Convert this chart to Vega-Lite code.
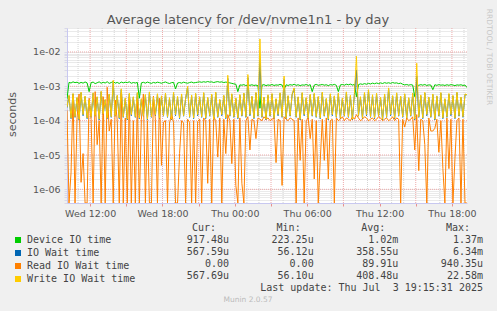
{
"$schema": "https://vega.github.io/schema/vega-lite/v6.json",
"width": 400, "height": 175,
"autosize": {"type": "none"},
"padding": {"left": 67, "top": 28, "right": 30, "bottom": 108},
"background": "#f0f0f0",
"config": {"view": {"fill": "white", "stroke": null}, "font": "DejaVu Sans"},
"layer": [
{
"layer": [
{
"data": {"values": [{"g":1e-2},{"g":1e-3},{"g":1e-4},{"g":1e-5},{"g":1e-6}]},
"mark": {"type": "rule", "color": "#eeaaaa", "strokeDash": [1,1], "strokeWidth": 1},
"encoding": {"y": {"field": "g", "type": "quantitative", "scale": {"type": "log", "domain": [4e-7, 0.05], "clamp": true}}}
},
{
"data": {"values": [{"h":"2025-07-02T11:00"},{"h":"2025-07-02T13:00"},{"h":"2025-07-02T14:00"},{"h":"2025-07-02T16:00"},{"h":"2025-07-02T17:00"},{"h":"2025-07-02T19:00"},{"h":"2025-07-02T20:00"},{"h":"2025-07-02T22:00"},{"h":"2025-07-02T23:00"},{"h":"2025-07-03T01:00"},{"h":"2025-07-03T02:00"},{"h":"2025-07-03T04:00"},{"h":"2025-07-03T05:00"},{"h":"2025-07-03T07:00"},{"h":"2025-07-03T08:00"},{"h":"2025-07-03T10:00"},{"h":"2025-07-03T11:00"},{"h":"2025-07-03T13:00"},{"h":"2025-07-03T14:00"},{"h":"2025-07-03T16:00"},{"h":"2025-07-03T17:00"},{"h":"2025-07-03T19:00"}]},
"mark": {"type": "rule", "color": "#d4d4d4", "strokeDash": [1,1], "strokeWidth": 1},
"encoding": {"x": {"field": "h", "type": "temporal"}}
},
{
"data": {"values": [{"h":"2025-07-02T12:00"},{"h":"2025-07-02T15:00"},{"h":"2025-07-02T18:00"},{"h":"2025-07-02T21:00"},{"h":"2025-07-03T00:00"},{"h":"2025-07-03T03:00"},{"h":"2025-07-03T06:00"},{"h":"2025-07-03T09:00"},{"h":"2025-07-03T12:00"},{"h":"2025-07-03T15:00"},{"h":"2025-07-03T18:00"}]},
"mark": {"type": "rule", "color": "#eeaaaa", "strokeDash": [1,1], "strokeWidth": 1},
"encoding": {"x": {"field": "h", "type": "temporal"}}
},
{
"data": {"values": [
{"t":"2025-07-02T10:05","d":4.3e-4,"i":2.4e-4,"r":2.0e-4,"w":2.5e-4},
{"t":"2025-07-02T10:15","d":13e-4,"i":5.3e-4,"r":0,"w":5.5e-4},
{"t":"2025-07-02T10:25","d":12.5e-4,"i":1.15e-4,"r":0.03e-4,"w":1.2e-4},
{"t":"2025-07-02T10:35","d":13.5e-4,"i":6e-4,"r":5.5e-4,"w":6.2e-4},
{"t":"2025-07-02T10:45","d":12.8e-4,"i":1.25e-4,"r":0,"w":1.3e-4},
{"t":"2025-07-02T10:55","d":13.2e-4,"i":4.6e-4,"r":1.2e-4,"w":4.8e-4},
{"t":"2025-07-02T11:05","d":12.2e-4,"i":1.05e-4,"r":6e-4,"w":1.1e-4},
{"t":"2025-07-02T11:15","d":13e-4,"i":6.5e-4,"r":0.016e-4,"w":6.8e-4},
{"t":"2025-07-02T11:25","d":12.4e-4,"i":1.4e-4,"r":0.11e-4,"w":1.5e-4},
{"t":"2025-07-02T11:35","d":13.4e-4,"i":5e-4,"r":0,"w":5.2e-4},
{"t":"2025-07-02T11:45","d":12.6e-4,"i":1.15e-4,"r":0,"w":1.2e-4},
{"t":"2025-07-02T11:55","d":7e-4,"i":3.8e-4,"r":4.5e-4,"w":4e-4},
{"t":"2025-07-02T12:05","d":12.8e-4,"i":1.25e-4,"r":1.1e-4,"w":1.3e-4},
{"t":"2025-07-02T12:15","d":13.3e-4,"i":6.2e-4,"r":0,"w":6.5e-4},
{"t":"2025-07-02T12:25","d":12e-4,"i":1.35e-4,"r":7e-4,"w":1.4e-4},
{"t":"2025-07-02T12:35","d":12.7e-4,"i":4.8e-4,"r":0.2e-4,"w":5e-4},
{"t":"2025-07-02T12:45","d":13.5e-4,"i":1.05e-4,"r":1e-4,"w":1.1e-4},
{"t":"2025-07-02T12:55","d":12.3e-4,"i":6.9e-4,"r":0,"w":7.2e-4},
{"t":"2025-07-02T13:05","d":13.1e-4,"i":1.5e-4,"r":5e-4,"w":1.6e-4},
{"t":"2025-07-02T13:15","d":12.5e-4,"i":4e-4,"r":0,"w":4.2e-4},
{"t":"2025-07-02T13:25","d":13.6e-4,"i":1.15e-4,"r":9.4e-4,"w":1.2e-4},
{"t":"2025-07-02T13:35","d":12.2e-4,"i":5.8e-4,"r":0.5e-4,"w":6e-4},
{"t":"2025-07-02T13:45","d":12.9e-4,"i":1.25e-4,"r":1.1e-4,"w":1.3e-4},
{"t":"2025-07-02T13:55","d":13.8e-4,"i":13e-4,"r":0,"w":15e-4},
{"t":"2025-07-02T14:05","d":12.4e-4,"i":1.35e-4,"r":4e-4,"w":1.4e-4},
{"t":"2025-07-02T14:15","d":13e-4,"i":5.3e-4,"r":1e-4,"w":5.5e-4},
{"t":"2025-07-02T14:25","d":12.1e-4,"i":1.15e-4,"r":0,"w":1.2e-4},
{"t":"2025-07-02T14:35","d":13.3e-4,"i":8e-4,"r":6.5e-4,"w":8.5e-4},
{"t":"2025-07-02T14:45","d":12.6e-4,"i":1.25e-4,"r":0,"w":1.3e-4},
{"t":"2025-07-02T14:55","d":13.2e-4,"i":4.4e-4,"r":1.2e-4,"w":4.6e-4},
{"t":"2025-07-02T15:05","d":12.8e-4,"i":1.05e-4,"r":0,"w":1.1e-4},
{"t":"2025-07-02T15:15","d":13.5e-4,"i":6e-4,"r":5e-4,"w":6.3e-4},
{"t":"2025-07-02T15:25","d":12.3e-4,"i":1.4e-4,"r":0,"w":1.5e-4},
{"t":"2025-07-02T15:35","d":12.9e-4,"i":4.8e-4,"r":1e-4,"w":5e-4},
{"t":"2025-07-02T15:45","d":12.5e-4,"i":1.25e-4,"r":0,"w":1.3e-4},
{"t":"2025-07-02T15:55","d":13e-4,"i":6.3e-4,"r":4.2e-4,"w":6.6e-4},
{"t":"2025-07-02T16:05","d":4.5e-4,"i":1.15e-4,"r":0,"w":1.2e-4},
{"t":"2025-07-02T16:15","d":12.6e-4,"i":4.2e-4,"r":1.1e-4,"w":4.4e-4},
{"t":"2025-07-02T16:25","d":13.1e-4,"i":1.35e-4,"r":6e-4,"w":1.4e-4},
{"t":"2025-07-02T16:35","d":12.4e-4,"i":5.5e-4,"r":0,"w":5.8e-4},
{"t":"2025-07-02T16:45","d":13.3e-4,"i":1.05e-4,"r":1e-4,"w":1.1e-4},
{"t":"2025-07-02T16:55","d":12.7e-4,"i":6.6e-4,"r":0,"w":6.9e-4},
{"t":"2025-07-02T17:05","d":12.2e-4,"i":1.25e-4,"r":0,"w":1.3e-4},
{"t":"2025-07-02T17:15","d":13e-4,"i":4.7e-4,"r":5.2e-4,"w":4.9e-4},
{"t":"2025-07-02T17:25","d":12.5e-4,"i":1.4e-4,"r":1e-4,"w":1.5e-4},
{"t":"2025-07-02T17:35","d":13.2e-4,"i":5.8e-4,"r":0,"w":6.1e-4},
{"t":"2025-07-02T17:45","d":12.8e-4,"i":1.15e-4,"r":4.5e-4,"w":1.2e-4},
{"t":"2025-07-02T17:55","d":12.3e-4,"i":5e-4,"r":0.05e-4,"w":5.3e-4},
{"t":"2025-07-02T18:05","d":12.9e-4,"i":1.35e-4,"r":0.9e-4,"w":1.4e-4},
{"t":"2025-07-02T18:15","d":13.4e-4,"i":6.1e-4,"r":1e-4,"w":6.4e-4},
{"t":"2025-07-02T18:25","d":12.6e-4,"i":1.25e-4,"r":0,"w":1.3e-4},
{"t":"2025-07-02T18:35","d":12.1e-4,"i":4.5e-4,"r":0.85e-4,"w":4.7e-4},
{"t":"2025-07-02T18:45","d":12.8e-4,"i":1.05e-4,"r":1.6e-4,"w":1.1e-4},
{"t":"2025-07-02T18:55","d":13e-4,"i":6.4e-4,"r":0.9e-4,"w":6.7e-4},
{"t":"2025-07-02T19:05","d":8.4e-4,"i":1.4e-4,"r":0,"w":1.5e-4},
{"t":"2025-07-02T19:15","d":12.5e-4,"i":4.9e-4,"r":0,"w":5.1e-4},
{"t":"2025-07-02T19:25","d":12.9e-4,"i":1.15e-4,"r":0.11e-4,"w":1.2e-4},
{"t":"2025-07-02T19:35","d":12.4e-4,"i":5.7e-4,"r":1e-4,"w":6e-4},
{"t":"2025-07-02T19:45","d":13.2e-4,"i":1.35e-4,"r":0.85e-4,"w":1.4e-4},
{"t":"2025-07-02T19:55","d":12.7e-4,"i":4.3e-4,"r":0,"w":4.5e-4},
{"t":"2025-07-02T20:05","d":12.3e-4,"i":9.5e-4,"r":1.1e-4,"w":10e-4},
{"t":"2025-07-02T20:15","d":12.9e-4,"i":1.25e-4,"r":0.9e-4,"w":1.3e-4},
{"t":"2025-07-02T20:25","d":13.3e-4,"i":5.3e-4,"r":0,"w":5.6e-4},
{"t":"2025-07-02T20:35","d":12.6e-4,"i":1.15e-4,"r":1e-4,"w":1.2e-4},
{"t":"2025-07-02T20:45","d":12.9e-4,"i":6e-4,"r":0,"w":6.3e-4},
{"t":"2025-07-02T20:55","d":13.2e-4,"i":1.4e-4,"r":0.95e-4,"w":1.5e-4},
{"t":"2025-07-02T21:05","d":13.5e-4,"i":4.8e-4,"r":1.1e-4,"w":5e-4},
{"t":"2025-07-02T21:15","d":13.1e-4,"i":1.25e-4,"r":0,"w":1.3e-4},
{"t":"2025-07-02T21:25","d":13.6e-4,"i":6.3e-4,"r":1.2e-4,"w":6.6e-4},
{"t":"2025-07-02T21:35","d":13.2e-4,"i":1.15e-4,"r":1e-4,"w":1.2e-4},
{"t":"2025-07-02T21:45","d":13.8e-4,"i":4.6e-4,"r":0.015e-4,"w":4.8e-4},
{"t":"2025-07-02T21:55","d":13.3e-4,"i":1.35e-4,"r":1.1e-4,"w":1.4e-4},
{"t":"2025-07-02T22:05","d":13.5e-4,"i":5.6e-4,"r":0,"w":5.9e-4},
{"t":"2025-07-02T22:15","d":12.9e-4,"i":1.05e-4,"r":1.3e-4,"w":1.1e-4},
{"t":"2025-07-02T22:25","d":13.4e-4,"i":6.5e-4,"r":1e-4,"w":6.8e-4},
{"t":"2025-07-02T22:35","d":13.7e-4,"i":1.25e-4,"r":0.087e-4,"w":1.3e-4},
{"t":"2025-07-02T22:45","d":13.2e-4,"i":4e-4,"r":1.2e-4,"w":4.2e-4},
{"t":"2025-07-02T22:55","d":13.5e-4,"i":1.4e-4,"r":0,"w":1.5e-4},
{"t":"2025-07-02T23:05","d":12.9e-4,"i":5.3e-4,"r":1.1e-4,"w":5.5e-4},
{"t":"2025-07-02T23:15","d":13.3e-4,"i":1.15e-4,"r":0.11e-4,"w":1.2e-4},
{"t":"2025-07-02T23:25","d":13e-4,"i":17e-4,"r":1.5e-4,"w":21e-4},
{"t":"2025-07-02T23:35","d":12.6e-4,"i":1.35e-4,"r":1e-4,"w":1.4e-4},
{"t":"2025-07-02T23:45","d":12.2e-4,"i":5.8e-4,"r":0.056e-4,"w":6.1e-4},
{"t":"2025-07-02T23:55","d":11.8e-4,"i":1.25e-4,"r":1.1e-4,"w":1.3e-4},
{"t":"2025-07-03T00:05","d":11.5e-4,"i":4.4e-4,"r":0.013e-4,"w":4.6e-4},
{"t":"2025-07-03T00:15","d":7e-4,"i":1.15e-4,"r":0,"w":1.2e-4},
{"t":"2025-07-03T00:25","d":11e-4,"i":5.5e-4,"r":1.2e-4,"w":5.8e-4},
{"t":"2025-07-03T00:35","d":10.8e-4,"i":1.35e-4,"r":0.015e-4,"w":1.4e-4},
{"t":"2025-07-03T00:45","d":11.2e-4,"i":6.1e-4,"r":0,"w":6.4e-4},
{"t":"2025-07-03T00:55","d":10.5e-4,"i":1.25e-4,"r":1e-4,"w":1.3e-4},
{"t":"2025-07-03T01:05","d":11e-4,"i":18e-4,"r":1.3e-4,"w":22e-4},
{"t":"2025-07-03T01:15","d":10.7e-4,"i":1.4e-4,"r":0.14e-4,"w":1.5e-4},
{"t":"2025-07-03T01:25","d":11.1e-4,"i":5e-4,"r":1.1e-4,"w":5.2e-4},
{"t":"2025-07-03T01:35","d":10.6e-4,"i":1.15e-4,"r":1e-4,"w":1.2e-4},
{"t":"2025-07-03T01:45","d":10.9e-4,"i":6.4e-4,"r":0.3e-4,"w":6.7e-4},
{"t":"2025-07-03T01:55","d":10.4e-4,"i":1.35e-4,"r":1.2e-4,"w":1.4e-4},
{"t":"2025-07-03T02:05","d":2.3e-4,"i":63e-4,"r":1.1e-4,"w":240e-4},
{"t":"2025-07-03T02:15","d":10.8e-4,"i":1.25e-4,"r":1e-4,"w":1.3e-4},
{"t":"2025-07-03T02:25","d":11.2e-4,"i":4.7e-4,"r":1.3e-4,"w":4.9e-4},
{"t":"2025-07-03T02:35","d":10.5e-4,"i":1.05e-4,"r":1.1e-4,"w":1.1e-4},
{"t":"2025-07-03T02:45","d":11e-4,"i":5.4e-4,"r":1.2e-4,"w":5.7e-4},
{"t":"2025-07-03T02:55","d":10.7e-4,"i":1.35e-4,"r":1e-4,"w":1.4e-4},
{"t":"2025-07-03T03:05","d":11.3e-4,"i":5.9e-4,"r":1.1e-4,"w":6.2e-4},
{"t":"2025-07-03T03:15","d":10.6e-4,"i":1.15e-4,"r":1.2e-4,"w":1.2e-4},
{"t":"2025-07-03T03:25","d":11e-4,"i":4.2e-4,"r":0.06e-4,"w":4.4e-4},
{"t":"2025-07-03T03:35","d":10.8e-4,"i":1.4e-4,"r":1.1e-4,"w":1.5e-4},
{"t":"2025-07-03T03:45","d":11.4e-4,"i":6.2e-4,"r":1e-4,"w":6.5e-4},
{"t":"2025-07-03T03:55","d":10.9e-4,"i":1.25e-4,"r":0.013e-4,"w":1.3e-4},
{"t":"2025-07-03T04:05","d":8e-4,"i":16e-4,"r":1.3e-4,"w":20e-4},
{"t":"2025-07-03T04:15","d":11.1e-4,"i":1.15e-4,"r":1.1e-4,"w":1.2e-4},
{"t":"2025-07-03T04:25","d":10.6e-4,"i":5.2e-4,"r":1e-4,"w":5.4e-4},
{"t":"2025-07-03T04:35","d":11.2e-4,"i":1.35e-4,"r":1.2e-4,"w":1.4e-4},
{"t":"2025-07-03T04:45","d":10.8e-4,"i":5.7e-4,"r":1.1e-4,"w":6e-4},
{"t":"2025-07-03T04:55","d":11.5e-4,"i":8.5e-4,"r":1e-4,"w":9e-4},
{"t":"2025-07-03T05:05","d":10.7e-4,"i":1.25e-4,"r":0,"w":1.3e-4},
{"t":"2025-07-03T05:15","d":11.1e-4,"i":4.8e-4,"r":1.2e-4,"w":5e-4},
{"t":"2025-07-03T05:25","d":10.5e-4,"i":1.05e-4,"r":0.07e-4,"w":1.1e-4},
{"t":"2025-07-03T05:35","d":11e-4,"i":6.3e-4,"r":1.1e-4,"w":6.6e-4},
{"t":"2025-07-03T05:45","d":10.8e-4,"i":1.4e-4,"r":0,"w":1.5e-4},
{"t":"2025-07-03T05:55","d":11.3e-4,"i":4.5e-4,"r":1e-4,"w":4.7e-4},
{"t":"2025-07-03T06:05","d":10.6e-4,"i":1.15e-4,"r":1.2e-4,"w":1.2e-4},
{"t":"2025-07-03T06:15","d":11.2e-4,"i":5.6e-4,"r":0.3e-4,"w":5.9e-4},
{"t":"2025-07-03T06:25","d":7e-4,"i":1.35e-4,"r":1.1e-4,"w":1.4e-4},
{"t":"2025-07-03T06:35","d":10.9e-4,"i":6e-4,"r":0.02e-4,"w":6.3e-4},
{"t":"2025-07-03T06:45","d":11.4e-4,"i":1.25e-4,"r":1e-4,"w":1.3e-4},
{"t":"2025-07-03T06:55","d":10.7e-4,"i":4.9e-4,"r":0,"w":5.1e-4},
{"t":"2025-07-03T07:05","d":11e-4,"i":1.15e-4,"r":0.07e-4,"w":1.2e-4},
{"t":"2025-07-03T07:15","d":11.3e-4,"i":6.5e-4,"r":1.1e-4,"w":6.8e-4},
{"t":"2025-07-03T07:25","d":10.8e-4,"i":1.35e-4,"r":0.07e-4,"w":1.4e-4},
{"t":"2025-07-03T07:35","d":11.1e-4,"i":4.3e-4,"r":1.2e-4,"w":4.5e-4},
{"t":"2025-07-03T07:45","d":10.5e-4,"i":1.05e-4,"r":0.02e-4,"w":1.1e-4},
{"t":"2025-07-03T07:55","d":11.2e-4,"i":5.8e-4,"r":1e-4,"w":6.1e-4},
{"t":"2025-07-03T08:05","d":10.9e-4,"i":1.4e-4,"r":1.1e-4,"w":1.5e-4},
{"t":"2025-07-03T08:15","d":11.4e-4,"i":5.1e-4,"r":0,"w":5.3e-4},
{"t":"2025-07-03T08:25","d":10.7e-4,"i":1.25e-4,"r":1.2e-4,"w":1.3e-4},
{"t":"2025-07-03T08:35","d":7e-4,"i":6.1e-4,"r":1e-4,"w":6.4e-4},
{"t":"2025-07-03T08:45","d":11e-4,"i":1.15e-4,"r":1.1e-4,"w":1.2e-4},
{"t":"2025-07-03T08:55","d":11.3e-4,"i":4.4e-4,"r":1.3e-4,"w":4.6e-4},
{"t":"2025-07-03T09:05","d":10.8e-4,"i":1.35e-4,"r":1e-4,"w":1.4e-4},
{"t":"2025-07-03T09:15","d":11.5e-4,"i":6.6e-4,"r":1.2e-4,"w":6.9e-4},
{"t":"2025-07-03T09:25","d":11.1e-4,"i":1.25e-4,"r":1.1e-4,"w":1.3e-4},
{"t":"2025-07-03T09:35","d":11.6e-4,"i":5.2e-4,"r":1e-4,"w":5.5e-4},
{"t":"2025-07-03T09:45","d":10.9e-4,"i":1.05e-4,"r":1.3e-4,"w":1.1e-4},
{"t":"2025-07-03T09:55","d":11.3e-4,"i":5.9e-4,"r":1.1e-4,"w":6.2e-4},
{"t":"2025-07-03T10:05","d":5e-4,"i":30e-4,"r":1.5e-4,"w":75e-4},
{"t":"2025-07-03T10:15","d":11.2e-4,"i":1.35e-4,"r":1.2e-4,"w":1.4e-4},
{"t":"2025-07-03T10:25","d":11.8e-4,"i":4.8e-4,"r":1e-4,"w":5e-4},
{"t":"2025-07-03T10:35","d":11.4e-4,"i":1.15e-4,"r":1.1e-4,"w":1.2e-4},
{"t":"2025-07-03T10:45","d":12e-4,"i":6.3e-4,"r":1.3e-4,"w":6.6e-4},
{"t":"2025-07-03T10:55","d":11.5e-4,"i":1.4e-4,"r":1.2e-4,"w":1.5e-4},
{"t":"2025-07-03T11:05","d":12.2e-4,"i":7.5e-4,"r":1e-4,"w":8e-4},
{"t":"2025-07-03T11:15","d":11.7e-4,"i":1.25e-4,"r":1.1e-4,"w":1.3e-4},
{"t":"2025-07-03T11:25","d":12.4e-4,"i":5.4e-4,"r":1.2e-4,"w":5.7e-4},
{"t":"2025-07-03T11:35","d":11.9e-4,"i":1.15e-4,"r":1e-4,"w":1.2e-4},
{"t":"2025-07-03T11:45","d":12.5e-4,"i":6e-4,"r":1.1e-4,"w":6.3e-4},
{"t":"2025-07-03T11:55","d":12e-4,"i":1.35e-4,"r":1.3e-4,"w":1.4e-4},
{"t":"2025-07-03T12:05","d":12.6e-4,"i":4.6e-4,"r":1.2e-4,"w":4.8e-4},
{"t":"2025-07-03T12:15","d":12.1e-4,"i":1.05e-4,"r":1e-4,"w":1.1e-4},
{"t":"2025-07-03T12:25","d":12.8e-4,"i":5.7e-4,"r":1.1e-4,"w":6e-4},
{"t":"2025-07-03T12:35","d":12.3e-4,"i":1.25e-4,"r":1.2e-4,"w":1.3e-4},
{"t":"2025-07-03T12:45","d":12.7e-4,"i":8.5e-4,"r":1e-4,"w":9e-4},
{"t":"2025-07-03T12:55","d":12.2e-4,"i":1.4e-4,"r":1.1e-4,"w":1.5e-4},
{"t":"2025-07-03T13:05","d":12.9e-4,"i":5.2e-4,"r":1.3e-4,"w":5.4e-4},
{"t":"2025-07-03T13:15","d":12.4e-4,"i":1.15e-4,"r":1e-4,"w":1.2e-4},
{"t":"2025-07-03T13:25","d":12.6e-4,"i":6.2e-4,"r":1.2e-4,"w":6.5e-4},
{"t":"2025-07-03T13:35","d":12e-4,"i":1.35e-4,"r":1.1e-4,"w":1.4e-4},
{"t":"2025-07-03T13:45","d":12.4e-4,"i":5e-4,"r":0,"w":5.2e-4},
{"t":"2025-07-03T13:55","d":11.5e-4,"i":1.25e-4,"r":1.1e-4,"w":1.3e-4},
{"t":"2025-07-03T14:05","d":11e-4,"i":5.8e-4,"r":0.65e-4,"w":6.1e-4},
{"t":"2025-07-03T14:15","d":11.3e-4,"i":1.15e-4,"r":1.2e-4,"w":1.2e-4},
{"t":"2025-07-03T14:25","d":10.8e-4,"i":4.5e-4,"r":1e-4,"w":4.7e-4},
{"t":"2025-07-03T14:35","d":11.2e-4,"i":1.35e-4,"r":1.1e-4,"w":1.4e-4},
{"t":"2025-07-03T14:45","d":10.9e-4,"i":6.1e-4,"r":1.3e-4,"w":6.4e-4},
{"t":"2025-07-03T14:55","d":5e-4,"i":1.05e-4,"r":0.14e-4,"w":1.1e-4},
{"t":"2025-07-03T15:05","d":11.1e-4,"i":20e-4,"r":1.5e-4,"w":47e-4},
{"t":"2025-07-03T15:15","d":10.7e-4,"i":1.25e-4,"r":0.035e-4,"w":1.3e-4},
{"t":"2025-07-03T15:25","d":11.2e-4,"i":5.3e-4,"r":1.1e-4,"w":5.6e-4},
{"t":"2025-07-03T15:35","d":10.8e-4,"i":1.15e-4,"r":1e-4,"w":1.2e-4},
{"t":"2025-07-03T15:45","d":11.3e-4,"i":6.4e-4,"r":0.2e-4,"w":6.7e-4},
{"t":"2025-07-03T15:55","d":10.6e-4,"i":1.4e-4,"r":0,"w":1.5e-4},
{"t":"2025-07-03T16:05","d":11e-4,"i":4.7e-4,"r":1.2e-4,"w":4.9e-4},
{"t":"2025-07-03T16:15","d":10.9e-4,"i":1.25e-4,"r":0.5e-4,"w":1.3e-4},
{"t":"2025-07-03T16:25","d":8e-4,"i":5.7e-4,"r":0.5e-4,"w":6e-4},
{"t":"2025-07-03T16:35","d":11.1e-4,"i":1.05e-4,"r":0.6e-4,"w":1.1e-4},
{"t":"2025-07-03T16:45","d":10.7e-4,"i":5.1e-4,"r":1.1e-4,"w":5.3e-4},
{"t":"2025-07-03T16:55","d":11.2e-4,"i":1.35e-4,"r":0.12e-4,"w":1.4e-4},
{"t":"2025-07-03T17:05","d":10.8e-4,"i":6.3e-4,"r":1e-4,"w":6.6e-4},
{"t":"2025-07-03T17:15","d":11e-4,"i":1.15e-4,"r":0.04e-4,"w":1.2e-4},
{"t":"2025-07-03T17:25","d":10.6e-4,"i":4.2e-4,"r":0,"w":4.4e-4},
{"t":"2025-07-03T17:35","d":11.1e-4,"i":1.25e-4,"r":1.2e-4,"w":1.3e-4},
{"t":"2025-07-03T17:45","d":10.7e-4,"i":5.9e-4,"r":0.04e-4,"w":6.2e-4},
{"t":"2025-07-03T17:55","d":11.2e-4,"i":1.4e-4,"r":1.1e-4,"w":1.5e-4},
{"t":"2025-07-03T18:05","d":10.9e-4,"i":5.2e-4,"r":0,"w":5.5e-4},
{"t":"2025-07-03T18:15","d":10.5e-4,"i":1.15e-4,"r":0.08e-4,"w":1.2e-4},
{"t":"2025-07-03T18:25","d":11e-4,"i":6.5e-4,"r":1e-4,"w":6.8e-4},
{"t":"2025-07-03T18:35","d":10.8e-4,"i":1.35e-4,"r":1.2e-4,"w":1.4e-4},
{"t":"2025-07-03T18:45","d":11.1e-4,"i":4.7e-4,"r":0,"w":4.9e-4},
{"t":"2025-07-03T18:55","d":10.6e-4,"i":1.25e-4,"r":1.1e-4,"w":1.3e-4},
{"t":"2025-07-03T19:05","d":10.9e-4,"i":5.7e-4,"r":0,"w":6e-4},
{"t":"2025-07-03T19:15","d":9.1748e-4,"i":5.6759e-4,"r":0,"w":5.6769e-4}
]},
"transform": [{"fold": ["d","i","r","w"], "as": ["k","v"]}],
"mark": {"type": "line", "strokeWidth": 1, "clip": true},
"encoding": {
"x": {"field": "t", "type": "temporal",
"axis": {"title": null, "format": "%a %H:%M", "grid": false, "labelFont": "DejaVu Sans", "labelFontSize": 9.5, "labelColor": "#555555", "labelPadding": 2, "tickColor": "#e89090", "tickSize": 3, "domainColor": "#c8c8f0"}},
"y": {"field": "v", "type": "quantitative",
"scale": {"type": "log", "domain": [4e-7, 0.05], "clamp": true},
"axis": {"title": "seconds", "titleFont": "DejaVu Sans", "titleFontSize": 11, "titleFontWeight": "normal", "titleColor": "#555555", "titleX": -55, "titleY": 86, "titleBaseline": "middle",
"values": [4e-7,5e-7,6e-7,7e-7,8e-7,9e-7,1e-6,2e-6,3e-6,4e-6,5e-6,6e-6,7e-6,8e-6,9e-6,1e-5,2e-5,3e-5,4e-5,5e-5,6e-5,7e-5,8e-5,9e-5,1e-4,2e-4,3e-4,4e-4,5e-4,6e-4,7e-4,8e-4,9e-4,1e-3,2e-3,3e-3,4e-3,5e-3,6e-3,7e-3,8e-3,9e-3,1e-2,2e-2,3e-2,4e-2,5e-2],
"labelExpr": "datum.value == 1e-2 ? '1e-02' : datum.value == 1e-3 ? '1e-03' : datum.value == 1e-4 ? '1e-04' : datum.value == 1e-5 ? '1e-05' : datum.value == 1e-6 ? '1e-06' : ''",
"labelFont": "DejaVu Sans", "labelFontSize": 9.5, "labelColor": "#555555", "labelPadding": 4,
"gridColor": "#d4d4d4", "gridDash": [1,1], "tickColor": "#d8d8e8", "tickSize": 3, "domainColor": "#c8c8f0"}},
"color": {"field": "k", "type": "nominal",
"scale": {"domain": ["d","i","r","w"], "range": ["#00cc00","#0066b3","#ff8000","#ffcc00"]},
"legend": {"orient": "none", "legendX": -54, "legendY": 207, "direction": "vertical", "title": null, "padding": 0,
"symbolType": "square", "symbolSize": 9, "symbolStrokeWidth": 3,
"labelExpr": "datum.label == 'd' ? 'Device IO time' : datum.label == 'i' ? 'IO Wait time' : datum.label == 'r' ? 'Read IO Wait time' : 'Write IO Wait time'",
"labelFont": "DejaVu Sans Mono", "labelFontSize": 10, "labelColor": "#444444", "labelOffset": 4, "rowPadding": -4.3}}
}
}
]
},
{
"data": {"values": [{"s":"Average latency for /dev/nvme1n1 - by day"}]},
"mark": {"type": "text", "align": "center", "baseline": "alphabetic", "font": "DejaVu Sans", "fontSize": 13, "color": "#555555"},
"encoding": {
"x": {"field": "s", "type": "nominal", "scale": {"range": [181,181], "padding": 0}, "axis": null},
"y": {"field": "s", "type": "nominal", "scale": {"range": [-4.5,-4.5], "padding": 0}, "axis": null},
"text": {"field": "s"}}
},
{
"data": {"values": [{"r":"h","c":"cur","s":"Cur:"},{"r":"h","c":"min","s":"Min:"},{"r":"h","c":"avg","s":"Avg:"},{"r":"h","c":"max","s":"Max:"}]},
"mark": {"type": "text", "align": "right", "baseline": "middle", "font": "DejaVu Sans Mono", "fontSize": 10, "color": "#444444", "dx": -13},
"encoding": {
"x": {"field": "c", "type": "nominal", "scale": {"domain": ["cur","min","avg","max"], "range": [162,416], "padding": 0}, "axis": null},
"y": {"field": "r", "type": "nominal", "scale": {"domain": ["h","1","2","3","4","5"], "range": [200,260], "padding": 0}, "axis": null},
"text": {"field": "s"}}
},
{
"data": {"values": [
{"r":"1","c":"cur","s":"917.48u"},{"r":"1","c":"min","s":"223.25u"},{"r":"1","c":"avg","s":"1.02m"},{"r":"1","c":"max","s":"1.37m"},
{"r":"2","c":"cur","s":"567.59u"},{"r":"2","c":"min","s":"56.12u"},{"r":"2","c":"avg","s":"358.55u"},{"r":"2","c":"max","s":"6.34m"},
{"r":"3","c":"cur","s":"0.00\u00a0"},{"r":"3","c":"min","s":"0.00\u00a0"},{"r":"3","c":"avg","s":"89.91u"},{"r":"3","c":"max","s":"940.35u"},
{"r":"4","c":"cur","s":"567.69u"},{"r":"4","c":"min","s":"56.10u"},{"r":"4","c":"avg","s":"408.48u"},{"r":"4","c":"max","s":"22.58m"},
{"r":"5","c":"max","s":"Last update: Thu Jul\u00a0\u00a03 19:15:31 2025"}
]},
"mark": {"type": "text", "align": "right", "baseline": "middle", "font": "DejaVu Sans Mono", "fontSize": 10, "color": "#444444"},
"encoding": {
"x": {"field": "c", "type": "nominal", "scale": {"domain": ["cur","min","avg","max"], "range": [162,416], "padding": 0}, "axis": null},
"y": {"field": "r", "type": "nominal", "scale": {"domain": ["h","1","2","3","4","5"], "range": [200,260], "padding": 0}, "axis": null},
"text": {"field": "s"}}
},
{
"data": {"values": [{"s":"Munin 2.0.57"}]},
"mark": {"type": "text", "align": "center", "baseline": "middle", "font": "DejaVu Sans", "fontSize": 7.5, "color": "#bbbbbb"},
"encoding": {
"x": {"field": "s", "type": "nominal", "scale": {"range": [181,181], "padding": 0}, "axis": null},
"y": {"field": "s", "type": "nominal", "scale": {"range": [272,272], "padding": 0}, "axis": null},
"text": {"field": "s"}}
},
{
"data": {"values": [{"s":"RRDTOOL / TOBI OETIKER"}]},
"mark": {"type": "text", "align": "center", "baseline": "middle", "font": "DejaVu Sans", "fontSize": 7.5, "color": "#c8c8c8", "angle": 90},
"encoding": {
"x": {"field": "s", "type": "nominal", "scale": {"range": [421.5,421.5], "padding": 0}, "axis": null},
"y": {"field": "s", "type": "nominal", "scale": {"range": [29,29], "padding": 0}, "axis": null},
"text": {"field": "s"}}
}
],
"resolve": {"scale": {"x": "independent", "y": "independent"}}
}
